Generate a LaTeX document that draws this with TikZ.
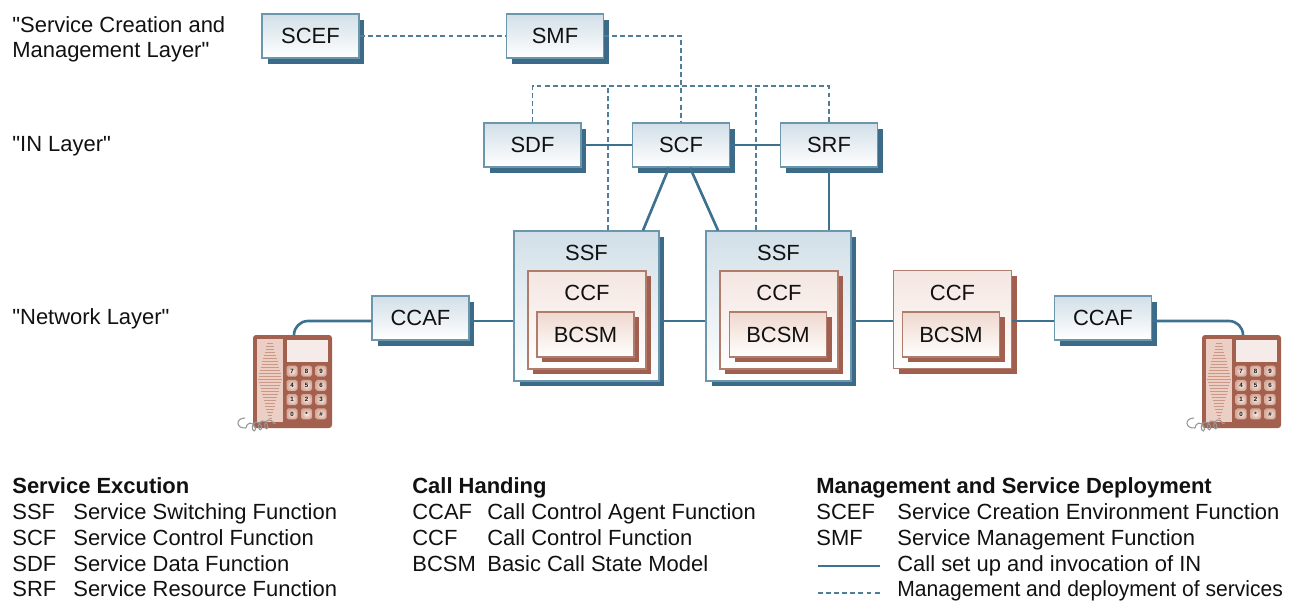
\documentclass[tikz,border=0pt]{standalone}
\usepackage{fontspec}
\setmainfont{Liberation Sans}
\newfontfamily\plainsans{Liberation Sans}
\usepackage{tikz}
\usetikzlibrary{shadows, decorations.pathmorphing}
\definecolor{boxedge}{RGB}{108,150,172}
\definecolor{boxshadow}{RGB}{59,107,136}
\definecolor{boxtop}{RGB}{210,223,232}
\definecolor{calllink}{RGB}{62,112,144}
\definecolor{mgmtlink}{RGB}{80,126,153}
\definecolor{ccfedge}{RGB}{176,124,108}
\definecolor{ccfshadow}{RGB}{161,96,79}
\definecolor{ccftop}{RGB}{244,230,225}
\definecolor{bcsmtop}{RGB}{239,216,206}
\definecolor{phonebody}{RGB}{163,96,78}
\definecolor{phonegrille}{RGB}{235,207,196}
\definecolor{grilleline}{RGB}{205,151,133}
\definecolor{phonescreen}{RGB}{245,235,232}
\definecolor{keyrim}{RGB}{215,169,153}
\definecolor{keyface}{RGB}{248,236,231}
\definecolor{cordgrey}{RGB}{150,150,150}
\definecolor{ink}{RGB}{17,17,17}

% straight double quote (no TeX ligature mapping)
\newcommand{\sq}{{\plainsans\symbol{34}}}

% desk telephone: #1 = name of the cord socket, #2 = shift to the right
\newcommand{\telset}[2]{%
  \begin{scope}[shift={(#2,0)}]
    \fill[phonebody, rounded corners=1.7pt] (253,335) rectangle (332,428);
    % earpiece grille
    \fill[phonegrille] (257,339) rectangle (283,422);
    \foreach \k [evaluate=\k as \gy using {343+3*\k},
                 evaluate=\k as \gw using {1.5+10.5*(1-abs(343+3*\k-378)/40)}] in {0,...,25}
      \draw[grilleline, line width=0.5pt] (270-\gw,\gy) -- (270+\gw,\gy);
    % display
    \fill[phonescreen] (287,340) rectangle (328,362);
    % keypad
    \foreach \lab [count=\i from 0,
                   evaluate=\i as \kx using {292+14.5*mod(\i,3)},
                   evaluate=\i as \ky using {371+14.3*floor(\i/3)}] in {7,8,9,4,5,6,1,2,3,0,*,\#}
      \node[phonekey] (#1-k\i) at (\kx,\ky) {\lab};
    % curly cord
    \draw[cordgrey, line width=0.6pt] (246,428) .. controls (236,429) and (235,418) .. (245,418);
    \draw[cordgrey, line width=0.6pt, decorate,
          decoration={coil, aspect=0.7, segment length=3.6pt, amplitude=2.4pt}] (246,428) -- (276,423);
    \coordinate (#1) at (294,335);
  \end{scope}}

\begin{document}
\begin{tikzpicture}[x=0.02cm, y=-0.02cm,
    every node/.style={font=\fontsize{12.5}{14.2}\selectfont, text=ink},
    fbox/.style={rectangle, draw=boxedge, line width=0.7pt, top color=boxtop,
                 bottom color=white, minimum width=1.94cm, minimum height=0.88cm,
                 inner sep=0pt,
                 general shadow={fill=boxshadow, shadow xshift=0.11cm, shadow yshift=-0.11cm}},
    ssfbox/.style={fbox, minimum width=2.9cm, minimum height=3cm},
    ccfbox/.style={rectangle, draw=ccfedge, line width=0.7pt, top color=ccftop,
                   bottom color=white, minimum width=2.36cm, minimum height=1.96cm,
                   inner sep=0pt,
                   general shadow={fill=ccfshadow, shadow xshift=0.1cm, shadow yshift=-0.1cm}},
    bcsmbox/.style={ccfbox, top color=bcsmtop, bottom color=white,
                    minimum width=1.94cm, minimum height=0.9cm},
    phonekey/.style={rectangle, rounded corners=1pt, minimum size=0.22cm, inner sep=0pt,
                     inner color=keyface, outer color=keyrim,
                     font=\fontsize{3.5}{4}\selectfont\bfseries},
    call/.style={calllink, line width=1.5pt},
    mgmt/.style={mgmtlink, line width=0.8pt, dash pattern=on 2.8pt off 1.8pt},
    txt/.style={anchor=base west, inner sep=0pt},
    hd/.style={txt, font=\fontsize{12.5}{14.2}\selectfont\bfseries}
  ]
  \useasboundingbox (0,0) rectangle (1298,603);

  % layer captions
  \node[anchor=north west, inner sep=0pt, align=left] (scmlayer) at (12,16)
    {\sq Service Creation and\\Management Layer\sq};
  \node[txt] (inlayer) at (12,151) {\sq IN Layer\sq};
  \node[txt] (netlayer) at (12,324) {\sq Network Layer\sq};

  % management layer
  \node[fbox] (scef) at (310.5,36) {SCEF};
  \node[fbox] (smf)  at (555,36)   {SMF};

  % IN layer
  \node[fbox] (sdf) at (532.5,145) {SDF};
  \node[fbox] (scf) at (681,145)   {SCF};
  \node[fbox] (srf) at (829,145)   {SRF};

  % network layer
  \node[ssfbox] (ssfa) at (586.5,306) {};
  \node (ssfalab) at (586.5,253) {SSF};
  \node[ccfbox] (ccfa) at (587,320) {};
  \node (ccfalab) at (587,293) {CCF};
  \node[bcsmbox] (bcsma) at (585.5,334.5) {BCSM};

  \node[ssfbox] (ssfb) at (778.5,306) {};
  \node (ssfblab) at (778.5,253) {SSF};
  \node[ccfbox] (ccfb) at (779,320) {};
  \node (ccfblab) at (779,293) {CCF};
  \node[bcsmbox] (bcsmb) at (778,334.5) {BCSM};

  \node[ccfbox] (ccfc) at (952.5,319.5) {};
  \node (ccfclab) at (952.5,293) {CCF};
  \node[bcsmbox] (bcsmc) at (951,334.5) {BCSM};

  \node[fbox] (ccafa) at (420.5,318) {CCAF};
  \node[fbox] (ccafb) at (1103,318)  {CCAF};

  \telset{telL}{0}
  \telset{telR}{949}

  % management and deployment links
  \coordinate (mgbus) at (829,86);
  \draw[mgmt] (scef) -- (smf);
  \draw[mgmt] (smf.east) -| (scf.north);
  \draw[mgmt] (sdf.north) |- (mgbus) -- (srf.north);
  \draw[mgmt] ([xshift=0.43cm]ssfa.north) -- ([xshift=0.43cm]ssfa.north |- mgbus);
  \draw[mgmt] ([xshift=-0.45cm]ssfb.north) -- ([xshift=-0.45cm]ssfb.north |- mgbus);

  % call set up links
  \coordinate (trunk) at (0,321);
  \draw[call] (sdf) -- (scf);
  \draw[call] (scf) -- (srf);
  \draw[call] ([xshift=-0.24cm]scf.south) -- ([xshift=1.13cm]ssfa.north);
  \draw[call] ([xshift=0.18cm]scf.south) -- ([xshift=-1.21cm]ssfb.north);
  \draw[call] (srf.south) -- (srf.south |- ssfb.north);
  \draw[call, rounded corners=0.28cm] (ccafa.west |- trunk) -| (telL);
  \draw[call] (ccafa.east |- trunk) -- (ssfa.west |- trunk);
  \draw[call] (ssfa.east |- trunk) -- (ssfb.west |- trunk);
  \draw[call] (ssfb.east |- trunk) -- (ccfc.west |- trunk);
  \draw[call] (ccfc.east |- trunk) -- (ccafb.west |- trunk);
  \draw[call, rounded corners=0.28cm] (ccafb.east |- trunk) -| (telR);

  % legend
  \node[hd]  (hdexec) at (12,493) {Service Excution};
  \node[txt] (kssf) at (12,519) {SSF};  \node[txt] (dssf) at (73,519) {Service Switching Function};
  \node[txt] (kscf) at (12,545) {SCF};  \node[txt] (dscf) at (73,545) {Service Control Function};
  \node[txt] (ksdf) at (12,571) {SDF};  \node[txt] (dsdf) at (73,571) {Service Data Function};
  \node[txt] (ksrf) at (12,596) {SRF};  \node[txt] (dsrf) at (73,596) {Service Resource Function};

  \node[hd]  (hdcall) at (412,493) {Call Handing};
  \node[txt] (kccaf) at (412,519) {CCAF}; \node[txt] (dccaf) at (487,519) {Call Control Agent Function};
  \node[txt] (kccf)  at (412,545) {CCF};  \node[txt] (dccf)  at (487,545) {Call Control Function};
  \node[txt] (kbcsm) at (412,571) {BCSM}; \node[txt] (dbcsm) at (487,571) {Basic Call State Model};

  \node[hd]  (hdmgmt) at (816,493) {Management and Service Deployment};
  \node[txt] (kscef) at (816,519) {SCEF}; \node[txt] (dscef) at (897,519) {Service Creation Environment Function};
  \node[txt] (ksmf)  at (816,545) {SMF};  \node[txt] (dsmf)  at (897,545) {Service Management Function};
  \coordinate (keycalla) at (818,566); \coordinate (keycallb) at (880,566);
  \coordinate (keymgmta) at (818,593); \coordinate (keymgmtb) at (880,593);
  \draw[call] (keycalla) -- (keycallb);
  \node[txt] (dcall) at (897,571) {Call set up and invocation of IN};
  \draw[mgmt] (keymgmta) -- (keymgmtb);
  \node[txt, xscale=0.96, transform shape] (dmgmt) at (897,596) {Management and deployment of services};
\end{tikzpicture}
\end{document}
